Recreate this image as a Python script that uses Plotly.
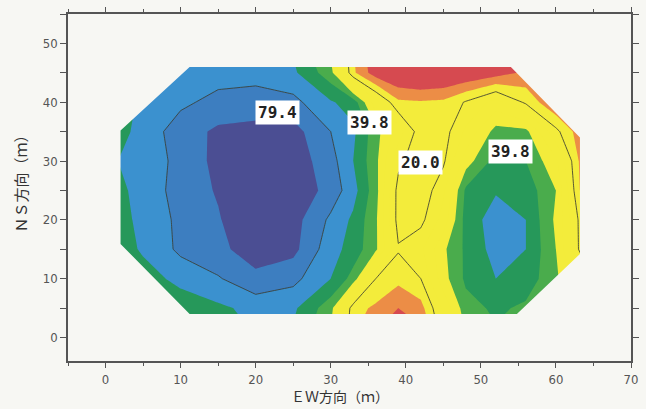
import plotly.graph_objects as go

# Survey grid nodes (m)
EW_M = [0, 5, 10, 15, 20, 25, 30, 33, 36, 39, 42, 45, 48, 52, 56, 60, 64]
NS_M = [0, 5, 10, 15, 20, 25, 30, 35, 40, 45, 50]

# log10 of the measured value at each node, one list per NS row
LOG_NS00 = [1.45, 1.58, 1.68, 1.75, 1.80, 1.78, 1.58, 1.20, 1.08, 1.00, 1.06, 1.35, 1.60, 1.68, 1.64, 1.50, 1.35]
LOG_NS05 = [1.50, 1.62, 1.72, 1.78, 1.83, 1.82, 1.64, 1.24, 1.18, 1.10, 1.16, 1.42, 1.66, 1.72, 1.68, 1.55, 1.40]
LOG_NS10 = [1.60, 1.74, 1.84, 1.89, 1.98, 1.93, 1.80, 1.66, 1.30, 1.23, 1.30, 1.56, 1.72, 1.80, 1.76, 1.62, 1.40]
LOG_NS15 = [1.68, 1.82, 1.92, 1.98, 2.04, 2.03, 1.84, 1.76, 1.62, 1.31, 1.38, 1.58, 1.72, 1.84, 1.80, 1.60, 1.20]
LOG_NS20 = [1.70, 1.84, 1.92, 1.99, 2.10, 2.04, 1.88, 1.78, 1.62, 1.26, 1.27, 1.44, 1.74, 1.85, 1.80, 1.58, 1.20]
LOG_NS25 = [1.74, 1.84, 1.94, 2.01, 2.12, 2.08, 1.96, 1.84, 1.64, 1.26, 1.22, 1.38, 1.72, 1.79, 1.76, 1.60, 1.10]
LOG_NS30 = [1.78, 1.84, 1.93, 2.03, 2.10, 2.06, 1.94, 1.80, 1.63, 1.33, 1.22, 1.28, 1.55, 1.74, 1.70, 1.52, 1.10]
LOG_NS35 = [1.72, 1.84, 1.95, 2.02, 2.03, 2.04, 1.90, 1.82, 1.64, 1.45, 1.24, 1.25, 1.42, 1.64, 1.63, 1.33, 1.10]
LOG_NS40 = [1.72, 1.82, 1.88, 1.93, 1.95, 1.93, 1.81, 1.76, 1.44, 1.22, 1.21, 1.22, 1.31, 1.44, 1.28, 1.10, 0.98]
LOG_NS45 = [1.74, 1.80, 1.85, 1.86, 1.86, 1.82, 1.64, 1.22, 1.04, 0.98, 0.95, 0.97, 1.00, 1.05, 1.12, 1.18, 1.22]
LOG_NS50 = [1.72, 1.78, 1.82, 1.83, 1.83, 1.78, 1.56, 1.20, 1.00, 0.95, 0.92, 0.94, 0.97, 1.00, 1.08, 1.15, 1.20]
LOG_ROWS = [LOG_NS00, LOG_NS05, LOG_NS10, LOG_NS15, LOG_NS20, LOG_NS25,
            LOG_NS30, LOG_NS35, LOG_NS40, LOG_NS45, LOG_NS50]

# Outline of the surveyed area (m)
AREA_EW = [11.2, 54.0, 63.2, 63.2, 54.8, 11.2, 2.0, 2.0]
AREA_NS = [46.0, 46.0, 34.0, 14.2, 4.0, 4.0, 15.9, 35.2]

# Filled bands on log10 levels 1.1 .. 2.0, step 0.1 (lowest band first)
BAND_START, BAND_END, BAND_STEP = 1.1, 2.0, 0.1
BAND_COLORS = ["#d64a50", "#ec8d46", "#f3ec3b", "#f3ec3b", "#f3ec3b", "#f3ec3b",
               "#4aac4c", "#26985a", "#3b91cf", "#3d7ec0", "#4b4e93"]

# Drawn contour lines (log10 levels)
LINE_START, LINE_END, LINE_STEP = 1.3, 1.9, 0.6

# Contour value labels: position (m) and log10 level
LABEL_EW = [22.9, 35.1, 41.9, 53.9]
LABEL_NS = [38.2, 36.5, 29.7, 31.6]
LABEL_LEVEL = [1.9, 1.6, 1.3, 1.6]

X_TITLE = "ＥＷ方向（ｍ）"
Y_TITLE = "ＮＳ方向（ｍ）"

PAPER = "#f7f7f3"
AXIS_GREY = "#555555"

# piecewise-constant colour scale, one flat step per band
n_bands = len(BAND_COLORS)
colorscale = []
for j, c in enumerate(BAND_COLORS):
    lo = max(0.0, (j - 0.5) / (n_bands - 1))
    hi = min(1.0, (j + 0.5) / (n_bands - 1))
    colorscale.append([lo, c])
    colorscale.append([hi, c])

fig = go.Figure()

fig.add_trace(go.Contour(
    x=EW_M, y=NS_M, z=LOG_ROWS,
    contours=dict(start=BAND_START, end=BAND_END + 1e-3, size=BAND_STEP, coloring="fill"),
    colorscale=colorscale, showscale=False,
    line=dict(width=0, smoothing=0), hoverinfo="skip",
))

fig.add_trace(go.Contour(
    x=EW_M, y=NS_M, z=LOG_ROWS,
    contours=dict(start=LINE_START, end=LINE_END + 1e-3, size=LINE_STEP, coloring="none"),
    showscale=False,
    line=dict(width=1, color="rgba(60,62,50,0.85)", smoothing=0), hoverinfo="skip",
))

# blank out everything outside the surveyed outline
outline = " ".join(
    ("M" if i == 0 else "L") + f" {ex},{ny}" for i, (ex, ny) in enumerate(zip(AREA_EW, AREA_NS))
) + " Z"
mask_path = "M -1,-1 L 66,-1 L 66,51 L -1,51 Z " + outline
fig.add_shape(type="path", path=mask_path, xref="x", yref="y",
              fillcolor=PAPER, fillrule="evenodd", line=dict(width=0), layer="above")

for ex, ny, lvl in zip(LABEL_EW, LABEL_NS, LABEL_LEVEL):
    fig.add_annotation(
        x=ex, y=ny, xref="x", yref="y", showarrow=False,
        text=f"{10 ** lvl:.1f}",
        font=dict(family="DejaVu Sans Mono", size=16, color="#222222", weight="bold"),
        bgcolor="#ffffff", borderpad=2,
    )

title_font = dict(family="Noto Sans CJK JP", size=14, color="#333333")
fig.add_annotation(text=X_TITLE, xref="paper", yref="paper", x=0.483, y=-0.1,
                   xanchor="center", yanchor="middle", showarrow=False, font=title_font)
fig.add_annotation(text=Y_TITLE, xref="paper", yref="paper", x=-0.084, y=0.522,
                   xanchor="center", yanchor="middle", showarrow=False, textangle=-90,
                   font=dict(title_font, size=15))

tick_font = dict(family="Liberation Sans Narrow, DejaVu Sans Condensed, sans-serif",
                 size=13, color=AXIS_GREY)

fig.update_xaxes(
    range=[-5, 70], tick0=0, dtick=10, ticks="outside", ticklen=5, tickwidth=1.2,
    tickcolor=AXIS_GREY, showline=True, linecolor=AXIS_GREY, linewidth=1.5,
    mirror="allticks", showgrid=False, zeroline=False, tickfont=tick_font,
    ticklabelstandoff=1, automargin=False,
    minor=dict(dtick=5, tick0=0, ticks="outside", ticklen=3, tickcolor=AXIS_GREY, showgrid=False),
)
fig.update_yaxes(
    range=[-4, 55], tick0=0, dtick=10, ticks="outside", ticklen=6, tickwidth=1.2,
    tickcolor=AXIS_GREY, showline=True, linecolor=AXIS_GREY, linewidth=1.5,
    mirror="allticks", showgrid=False, zeroline=False, tickfont=tick_font,
    automargin=False,
    minor=dict(dtick=5, tick0=0, ticks="outside", ticklen=6, tickcolor=AXIS_GREY, showgrid=False),
)

fig.update_layout(
    width=646, height=409,
    margin=dict(l=68, r=15, t=14, b=48, autoexpand=False),
    paper_bgcolor=PAPER, plot_bgcolor=PAPER,
    showlegend=False,
)

fig.write_html("out.html")
